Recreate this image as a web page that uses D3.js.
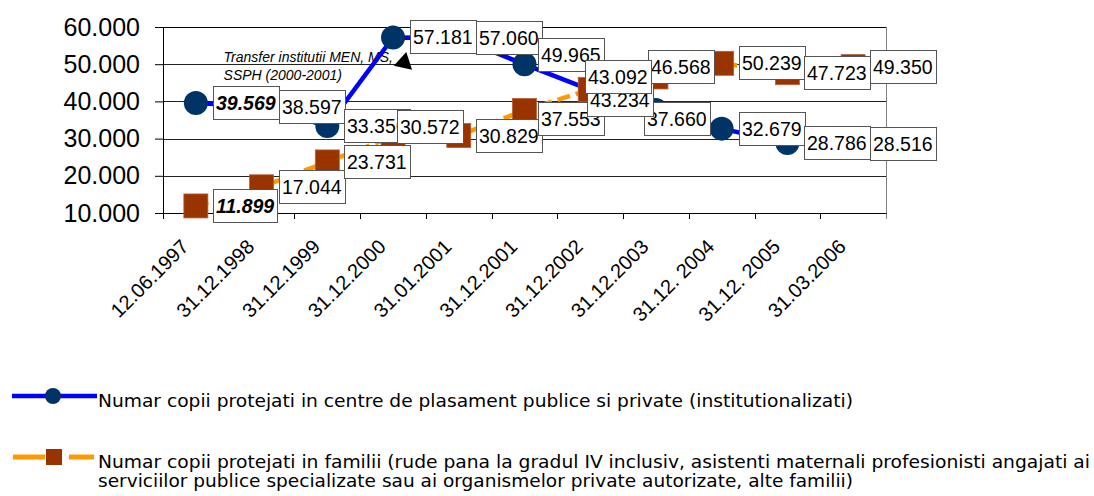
<!DOCTYPE html>
<html lang="ro">
<head>
<meta charset="utf-8">
<script src="https://cdn.jsdelivr.net/npm/d3@7"></script>
<style>
body { margin: 0; background: #fff; }
svg { display: block; font-family: "Liberation Sans", Arial, sans-serif; }
.grid line { stroke: #222; shape-rendering: crispEdges; }
.lbl rect { fill: #fff; stroke: #555; shape-rendering: crispEdges; }
.lbl text { font-size: 19.5px; fill: #000; }
.legend text { font-family: "DejaVu Sans Condensed", "DejaVu Sans", sans-serif; font-size: 18px; fill: #000; }
</style>
</head>
<body>
<div id="chart"></div>
<script>

// dates on the x axis
var dates = ["12.06.1997", "31.12.1998", "31.12.1999", "31.12.2000", "31.01.2001",
             "31.12.2001", "31.12.2002", "31.12.2003", "31.12. 2004", "31.12. 2005", "31.03.2006"];

// children in public / private placement centres
var institutionalizati = [39569, 38597, 33356, 57181, 57060, 49965, 43092, 37660, 32679, 28786, 28516];

// children in families
var familii = [11899, 17044, 23731, 30572, 30829, 37553, 43234, 46568, 50239, 47723, 49350];

var yTicks = [10000, 20000, 30000, 40000, 50000, 60000];

var legendLabels = [
  ["Numar copii protejati in centre de plasament publice si private (institutionalizati)"],
  ["Numar copii protejati in familii (rude pana la gradul IV inclusiv, asistenti maternali profesionisti angajati ai",
   "serviciilor publice specializate sau ai organismelor private autorizate, alte familii)"]
];

var note = ["Transfer institutii MEN, MS,", "SSPH (2000-2001)"];

var W = 1094, H = 496;
var plotL = 163, plotR = 886, plotT = 27, plotB = 213;

var svg = d3.select("#chart").append("svg")
    .attr("width", W)
    .attr("height", H);

var x = d3.scaleBand().domain(dates).range([plotL, plotR]).padding(0);
var y = d3.scaleLinear().domain([10000, 60000]).range([plotB, plotT]);
var cx = function(i) { return x(dates[i]) + x.bandwidth() / 2; };

// romanian style thousands: 60.000
var ro = d3.formatLocale({decimal: ",", thousands: ".", grouping: [3], currency: ["", ""]});
var fmt = ro.format(",d");

// gridlines
svg.append("g").attr("class", "grid")
  .selectAll("line")
  .data(yTicks.slice(1, -1))
  .enter().append("line")
    .attr("x1", plotL).attr("x2", plotR)
    .attr("y1", function(d) { return Math.round(y(d)) + 0.5; })
    .attr("y2", function(d) { return Math.round(y(d)) + 0.5; });

// plot frame: top black, right grey
svg.append("line")
    .attr("x1", plotL).attr("x2", plotR)
    .attr("y1", Math.round(y(60000)) + 0.5).attr("y2", Math.round(y(60000)) + 0.5)
    .attr("stroke", "#000").attr("shape-rendering", "crispEdges");
svg.append("line")
    .attr("x1", plotR + 0.5).attr("x2", plotR + 0.5)
    .attr("y1", plotT).attr("y2", plotB + 6)
    .attr("stroke", "#808080").attr("shape-rendering", "crispEdges");

// y axis
var yAxis = svg.append("g")
    .attr("transform", "translate(" + plotL + ",0)")
    .call(d3.axisLeft(y).tickValues(yTicks).tickSize(8).tickPadding(15).tickFormat(fmt));
yAxis.select(".domain").attr("stroke", "#000");
yAxis.selectAll(".tick line").attr("stroke", "#000");
yAxis.selectAll("text")
    .attr("font-size", 25)
    .attr("font-family", "'Liberation Sans', Arial, sans-serif")
    .attr("fill", "#000");

// x axis: labels at category centres, ticks at boundaries
var xAxis = svg.append("g")
    .attr("transform", "translate(0," + plotB + ")")
    .call(d3.axisBottom(x).tickSize(0));
xAxis.select(".domain").attr("stroke", "#000");
xAxis.selectAll("text")
    .attr("x", 0).attr("y", 0).attr("dy", 0)
    .attr("transform", "translate(-6,35) rotate(-45)")
    .style("text-anchor", "end")
    .attr("font-size", 20)
    .attr("font-family", "'Liberation Sans', Arial, sans-serif")
    .attr("fill", "#000");

xAxis.selectAll(".bound")
    .data(dates.map(function(d) { return x(d); }))
  .enter().append("line")
    .attr("class", "bound")
    .attr("x1", function(d) { return Math.round(d) + 0.5; })
    .attr("x2", function(d) { return Math.round(d) + 0.5; })
    .attr("y1", 0).attr("y2", 6)
    .attr("stroke", "#000")
    .attr("shape-rendering", "crispEdges");

// annotation text (under the lines)
svg.append("text")
    .attr("font-size", 14)
    .attr("font-style", "italic")
    .attr("fill", "#000")
  .selectAll("tspan")
  .data(note)
  .enter().append("tspan")
    .attr("x", cx(1) - 38)
    .attr("y", function(d, i) { return 62 + i * 18; })
    .text(function(d) { return d; });

var line = d3.line()
    .x(function(d, i) { return cx(i); })
    .y(function(d) { return y(d); });

// blue series
svg.append("path")
    .datum(institutionalizati)
    .attr("fill", "none")
    .attr("stroke", "#0000ff")
    .attr("stroke-width", 4.5)
    .attr("d", line);

svg.selectAll(".dot")
    .data(institutionalizati)
  .enter().append("circle")
    .attr("class", "dot")
    .attr("cx", function(d, i) { return cx(i); })
    .attr("cy", function(d) { return y(d); })
    .attr("r", 12)
    .attr("fill", "#003366");

// orange series
svg.append("path")
    .datum(familii)
    .attr("fill", "none")
    .attr("stroke", "#ff9900")
    .attr("stroke-width", 4.5)
    .attr("stroke-dasharray", "13,6")
    .attr("d", line);

svg.selectAll(".sq")
    .data(familii)
  .enter().append("rect")
    .attr("class", "sq")
    .attr("x", function(d, i) { return cx(i) - 12; })
    .attr("y", function(d) { return y(d) - 12; })
    .attr("width", 24)
    .attr("height", 24)
    .attr("fill", "#993300")
    .attr("stroke", "#b5603a")
    .attr("stroke-width", 0.8);

// arrow head under the 31.12.2000 peak
svg.append("path")
    .attr("d", d3.symbol(d3.symbolTriangle).size(150))
    .attr("transform", "translate(" + (cx(3) + 11) + "," + (y(57181) + 25) + ") rotate(12)")
    .attr("fill", "#000");

// data labels, moved by hand where excel moved them
var nudge = [
  {5: [-4, -9], 6: [-22, -13], 7: [-29, 9]},
  {3: [-13, -9], 5: [-4, 8], 6: [-20, 11], 7: [-25, -10]}
];

var labelData = [];
[institutionalizati, familii].forEach(function(vals, s) {
  vals.forEach(function(v, i) {
    var n = nudge[s][i] || [0, 0];
    labelData.push({s: s, i: i, v: v, x: cx(i) + 17 + n[0], y: y(v) + n[1]});
  });
});

var lbl = svg.selectAll(".lbl")
    .data(labelData)
  .enter().append("g")
    .attr("class", "lbl")
    .attr("transform", function(d) { return "translate(" + Math.round(d.x) + "," + Math.round(d.y) + ")"; });

lbl.append("text")
    .attr("x", 3)
    .attr("dy", "0.35em")
    .attr("font-weight", function(d) { return d.i === 0 ? "bold" : null; })
    .attr("font-style", function(d) { return d.i === 0 ? "italic" : null; })
    .text(function(d) { return fmt(d.v); });

lbl.each(function() {
  var g = d3.select(this);
  var w = g.select("text").node().getComputedTextLength();
  g.insert("rect", "text")
    .attr("x", 0.5).attr("y", -16.5)
    .attr("width", Math.round(w) + 6).attr("height", 33);
});

lbl.filter(function(d) { return d.s === 0 && d.i === 6; }).raise();

// legend
var legend = svg.append("g").attr("class", "legend");

legend.append("line")
    .attr("x1", 12).attr("x2", 97).attr("y1", 396).attr("y2", 396)
    .attr("stroke", "#0000ff").attr("stroke-width", 4.5);
legend.append("circle")
    .attr("cx", 53).attr("cy", 396).attr("r", 8)
    .attr("fill", "#003366");

legend.append("line")
    .attr("x1", 13).attr("x2", 45).attr("y1", 457).attr("y2", 457)
    .attr("stroke", "#ff9900").attr("stroke-width", 5);
legend.append("line")
    .attr("x1", 69).attr("x2", 94).attr("y1", 457).attr("y2", 457)
    .attr("stroke", "#ff9900").attr("stroke-width", 5);
legend.append("rect")
    .attr("x", 46).attr("y", 449).attr("width", 16).attr("height", 16)
    .attr("fill", "#993300");

var legendBase = [[406.5], [468, 487]];
var legendLen = [[755], [992, 755]];

legendLabels.forEach(function(lines, k) {
  lines.forEach(function(t, j) {
    legend.append("text")
      .attr("x", 98)
      .attr("y", legendBase[k][j])
      .attr("textLength", legendLen[k][j])
      .attr("lengthAdjust", "spacingAndGlyphs")
      .text(t);
  });
});

</script>
</body>
</html>
